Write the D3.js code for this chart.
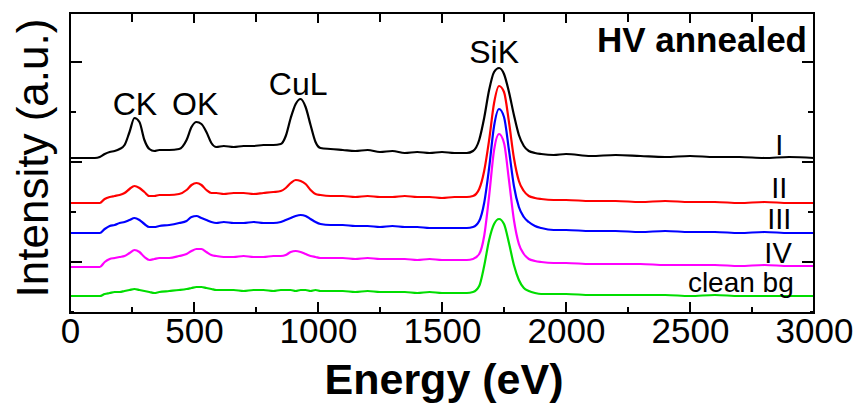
<!DOCTYPE html>
<html>
<head>
<meta charset="utf-8">
<script src="https://cdn.jsdelivr.net/npm/d3@7"></script>
<style>
  body { margin: 0; background: #fff; }
  text { font-family: "Liberation Sans", Arial, sans-serif; }
</style>
</head>
<body>
<svg id="chart" width="855" height="403"></svg>
<script>
// energies (eV) shared by all spectra
const energies = [0, 100, 120, 140, 160, 180, 200, 220, 240, 260, 280, 300, 320, 340, 360, 400, 440, 470, 490, 510,
  530, 550, 570, 590, 620, 660, 700, 740, 780, 820, 850, 870, 890, 910, 930, 950, 970, 990, 1010, 1050,
  1100, 1150, 1200, 1250, 1300, 1350, 1400, 1450, 1500, 1550, 1600, 1625, 1650, 1670, 1690, 1710, 1730, 1750, 1770, 1790,
  1810, 1830, 1850, 1875, 1900, 1950, 2000, 2100, 2200, 2300, 2400, 2500, 2600, 2700, 2800, 2900, 3000];

// intensities (a.u., already stacked with offsets)
const specI = [154, 154, 155, 158, 160, 161, 163, 167, 180, 194, 190, 172, 163, 161, 162, 162, 163, 172, 185, 190,
  188, 180, 169, 165, 166, 165, 166, 166, 167, 167, 168, 176, 194, 208, 213, 205, 187, 170, 164, 163,
  162, 161, 162, 160, 161, 159, 160, 159, 160, 159, 159, 161, 172, 194, 222, 240, 244, 238, 220, 197,
  177, 166, 161, 159, 158, 157, 158, 156, 157, 156, 155, 156, 155, 155, 154, 155, 154];
const specII = [109, 109, 109, 113, 115, 116, 117, 119, 123, 126, 124, 120, 116, 116, 117, 117, 118, 122, 127, 129,
  127, 122, 119, 119, 118, 119, 119, 118, 119, 120, 121, 124, 129, 132, 131, 128, 122, 118, 117, 116,
  116, 115, 116, 115, 115, 116, 115, 115, 114, 115, 115, 116, 123, 141, 172, 209, 226, 220, 190, 154,
  131, 121, 116, 114, 113, 112, 112, 111, 111, 110, 111, 110, 110, 109, 110, 109, 109];
const specIII = [79, 79, 79, 83, 86, 87, 89, 90, 92, 94, 92, 88, 85, 85, 86, 87, 89, 91, 95, 96,
  94, 92, 90, 89, 90, 89, 89, 90, 89, 89, 90, 92, 94, 96, 97, 96, 93, 90, 88, 87,
  87, 86, 86, 85, 86, 85, 85, 84, 84, 84, 84, 85, 91, 109, 144, 186, 203, 195, 162, 126,
  105, 95, 90, 86, 84, 82, 82, 81, 81, 80, 81, 80, 80, 79, 80, 79, 79];
const specIV = [45, 45, 45, 50, 53, 54, 55, 56, 59, 62, 60, 55, 52, 53, 54, 54, 56, 58, 61, 63,
  63, 60, 57, 56, 55, 55, 56, 55, 55, 56, 56, 57, 60, 61, 60, 58, 56, 55, 54, 54,
  54, 53, 54, 53, 53, 53, 52, 53, 52, 52, 52, 53, 58, 76, 116, 162, 178, 169, 132, 92,
  68, 58, 53, 51, 50, 49, 49, 48, 48, 48, 47, 47, 47, 46, 47, 46, 46];
const specBg = [16, 16, 16, 18, 19, 20, 20, 21, 22, 23, 22, 21, 20, 19, 20, 21, 22, 23, 24, 25,
  25, 24, 23, 22, 22, 22, 21, 22, 22, 21, 22, 22, 22, 21, 22, 22, 21, 22, 21, 21,
  21, 20, 21, 20, 20, 20, 19, 20, 19, 19, 19, 20, 26, 46, 72, 88, 93, 88, 69, 47,
  32, 24, 21, 19, 18, 18, 18, 17, 17, 17, 17, 16, 17, 16, 16, 16, 16];

const seriesNames = ['I', 'II', 'III', 'IV', 'clean bg'];
const seriesColors = ['#000000', '#ff0000', '#0000ff', '#ff00ff', '#00dd00'];
const seriesValues = [specI, specII, specIII, specIV, specBg];

const xTicks = [0, 500, 1000, 1500, 2000, 2500, 3000];
const yTicks = [0, 50, 100, 150, 200, 250];

// peak annotations: label, energy, value of text baseline
const peakNames = ['CK', 'OK', 'CuL', 'SiK'];
const peakEnergies = [262, 505, 920, 1710];
const peakLevels = [197, 197, 217, 249];

// series label positions (energy, value of baseline)
const labelEnergies = [2860, 2860, 2860, 2855, 2705];
const labelLevels = [157, 114, 83, 49, 20];

const svg = d3.select('#chart');
const m = { left: 70, right: 814, top: 13, bottom: 313 };

const x = d3.scaleLinear().domain([0, 3000]).range([m.left, m.right]);
const y = d3.scaleLinear().domain([-1, 299]).range([m.bottom, m.top]);

const tickMinorX = d3.range(0, 3001, 250);

// bottom ticks (inward)
svg.append('g').selectAll('line')
  .data(tickMinorX)
  .join('line')
  .attr('x1', d => x(d)).attr('x2', d => x(d))
  .attr('y1', m.bottom)
  .attr('y2', d => m.bottom - (d % 500 === 0 ? 11 : 6))
  .attr('stroke', '#000').attr('stroke-width', 2);

// top ticks (inward)
svg.append('g').selectAll('line')
  .data(tickMinorX)
  .join('line')
  .attr('x1', d => x(d)).attr('x2', d => x(d))
  .attr('y1', m.top)
  .attr('y2', d => m.top + (d % 500 === 0 ? 10 : 9))
  .attr('stroke', '#000').attr('stroke-width', 2);

// left and right ticks (inward)
[m.left, m.right].forEach(px => {
  const dir = px === m.left ? 1 : -1;
  svg.append('g').selectAll('line')
    .data(yTicks)
    .join('line')
    .attr('y1', d => y(d)).attr('y2', d => y(d))
    .attr('x1', px)
    .attr('x2', d => px + dir * (d % 100 === 50 ? 12 : (d === 0 ? 4 : 6)))
    .attr('stroke', '#000').attr('stroke-width', 2);
});

// x tick labels
svg.append('g')
  .attr('transform', `translate(0,${m.bottom})`)
  .call(d3.axisBottom(x).tickValues(xTicks).tickSize(0).tickPadding(0).tickFormat(d3.format('d')))
  .call(g => g.select('.domain').remove())
  .call(g => g.selectAll('text')
    .attr('dy', null)
    .attr('y', 30)
    .attr('fill', '#000')
    .style('font-size', '35px')
    .style('font-family', '"Liberation Sans", Arial, sans-serif'));

// spectra
const line = d3.line()
  .x((d, i) => x(energies[i]))
  .y(d => y(d))
  .curve(d3.curveMonotoneX);

svg.append('g').selectAll('path')
  .data(seriesValues)
  .join('path')
  .attr('d', line)
  .attr('fill', 'none')
  .attr('stroke', (d, i) => seriesColors[i])
  .attr('stroke-width', 2.2);

// frame
svg.append('rect')
  .attr('x', m.left).attr('y', m.top)
  .attr('width', m.right - m.left).attr('height', m.bottom - m.top)
  .attr('fill', 'none').attr('stroke', '#000').attr('stroke-width', 2);

// peak labels
svg.append('g').selectAll('text')
  .data(peakNames)
  .join('text')
  .attr('x', (d, i) => x(peakEnergies[i]))
  .attr('y', (d, i) => y(peakLevels[i]))
  .attr('text-anchor', 'middle')
  .style('font-size', '32px')
  .text(d => d);

// series labels
svg.append('g').selectAll('text')
  .data(seriesNames)
  .join('text')
  .attr('x', (d, i) => x(labelEnergies[i]))
  .attr('y', (d, i) => y(labelLevels[i]))
  .attr('text-anchor', 'middle')
  .style('font-size', (d, i) => (i === 4 ? '28px' : '29px'))
  .text(d => d);

// title inside plot
svg.append('text')
  .attr('x', 807).attr('y', 52)
  .attr('text-anchor', 'end')
  .style('font-size', '35px')
  .style('font-weight', 'bold')
  .text('HV annealed');

// axis titles
svg.append('text')
  .attr('transform', 'translate(48,158) rotate(-90)')
  .attr('text-anchor', 'middle')
  .style('font-size', '44px')
  .text('Intensity (a.u.)');

svg.append('text')
  .attr('x', 444).attr('y', 394)
  .attr('text-anchor', 'middle')
  .style('font-size', '43px')
  .style('font-weight', 'bold')
  .text('Energy (eV)');
</script>
</body>
</html>
